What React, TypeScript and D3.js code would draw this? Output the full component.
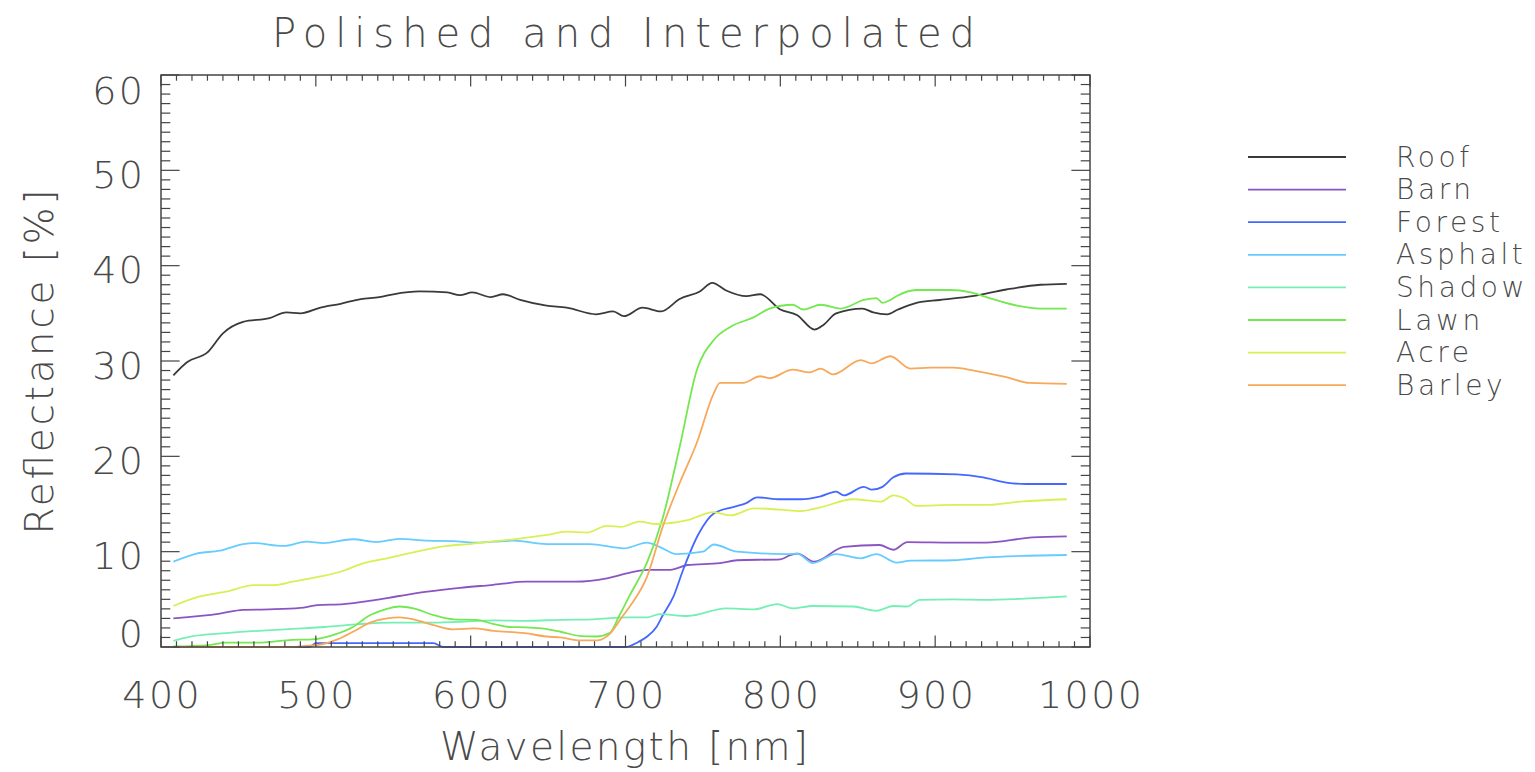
import React from "react";
import * as d3 from "d3";

type Pt = [number, number];

const seriesNames = ["Roof", "Barn", "Forest", "Asphalt", "Shadow", "Lawn", "Acre", "Barley"];
const seriesColors = ["#3a3a3a", "#8a55c0", "#4468ff", "#66ccff", "#74f0b4", "#74e850", "#d8f054", "#f8a85a"];

const roof: Pt[] = [[408,28.5],[417,29.9],[430,30.9],[440,32.9],[453,34.1],[470,34.5],[481,35.1],[490,35.0],[503,35.6],[516,36.0],[529,36.5],[541,36.7],[550,37.0],[567,37.3],[585,37.2],[593,36.9],[601,37.2],[613,36.7],[621,37.0],[632,36.4],[649,35.8],[662,35.6],[681,34.9],[692,35.2],[699,34.7],[711,35.6],[723,35.2],[735,36.5],[748,37.3],[756,38.2],[765,37.4],[778,36.8],[787,37.0],[800,35.4],[811,34.8],[822,33.3],[828,33.8],[836,35.0],[853,35.5],[860,35.1],[869,34.9],[876,35.4],[888,36.1],[903,36.4],[924,36.8],[946,37.5],[968,38.0],[985,38.1]];
const barn: Pt[] = [[408,3.0],[438,3.5],[453,3.9],[470,3.95],[490,4.1],[501,4.4],[518,4.5],[537,4.9],[554,5.35],[572,5.8],[593,6.2],[613,6.5],[636,6.85],[668,6.85],[688,7.2],[703,7.8],[714,8.1],[729,8.1],[740,8.6],[761,8.8],[772,9.1],[800,9.2],[806,9.6],[811,9.8],[822,8.95],[841,10.5],[864,10.7],[873,10.2],[882,11.0],[912,10.95],[933,10.95],[963,11.5],[985,11.6]];
const forest: Pt[] = [[408,0],[496,0],[500,0.4],[576,0.4],[582,0],[700,0],[708,0.5],[714,1.1],[720,2.1],[724,3.3],[731,5.3],[737,8.0],[747,11.8],[757,14.0],[770,14.7],[778,15.1],[785,15.7],[800,15.5],[813,15.5],[826,15.8],[836,16.3],[841,15.9],[854,16.8],[859,16.5],[866,16.8],[873,17.8],[881,18.2],[914,18.1],[931,17.8],[946,17.25],[959,17.1],[985,17.1]];
const asphalt: Pt[] = [[408,8.95],[423,9.8],[438,10.1],[453,10.8],[460,10.9],[479,10.6],[494,11.05],[505,10.9],[524,11.3],[539,11.0],[554,11.35],[572,11.15],[589,11.1],[602,10.95],[615,11.05],[628,11.15],[649,10.8],[677,10.8],[699,10.35],[714,10.95],[722,10.5],[733,9.75],[750,10.0],[757,10.75],[772,10.0],[804,9.75],[811,9.8],[821,8.8],[836,9.75],[852,9.3],[862,9.75],[875,8.85],[884,9.05],[912,9.1],[933,9.4],[955,9.55],[985,9.65]];
const shadow: Pt[] = [[408,0.65],[419,1.1],[442,1.45],[463,1.7],[485,1.9],[506,2.1],[528,2.4],[549,2.55],[572,2.55],[593,2.65],[615,2.8],[636,2.75],[658,2.85],[679,2.9],[701,3.1],[714,3.1],[722,3.45],[740,3.25],[765,4.05],[783,3.95],[798,4.5],[808,4.05],[821,4.3],[847,4.25],[862,3.8],[873,4.3],[882,4.25],[890,4.95],[912,5.0],[933,4.95],[955,5.05],[985,5.3]];
const lawn: Pt[] = [[408,0.05],[431,0.2],[442,0.45],[463,0.45],[485,0.75],[498,0.8],[511,1.25],[524,2.1],[534,3.25],[545,3.95],[554,4.25],[563,4.05],[576,3.35],[589,2.9],[604,2.85],[615,2.4],[625,2.1],[636,2.05],[650,1.85],[658,1.6],[671,1.15],[681,1.1],[690,1.5],[696,3.3],[703,5.5],[714,8.9],[724,13.5],[735,21.0],[746,29.0],[757,32.2],[768,33.6],[783,34.6],[793,35.5],[808,35.9],[815,35.4],[826,35.9],[839,35.5],[854,36.4],[862,36.6],[866,36.1],[871,36.4],[875,36.8],[888,37.45],[910,37.45],[923,37.2],[935,36.6],[953,35.8],[968,35.5],[985,35.5]];
const acre: Pt[] = [[408,4.3],[425,5.3],[442,5.8],[460,6.5],[473,6.5],[485,6.85],[503,7.4],[518,8.0],[529,8.7],[546,9.3],[559,9.8],[572,10.25],[585,10.6],[599,10.8],[613,11.05],[628,11.3],[649,11.75],[662,12.1],[675,12.0],[688,12.7],[697,12.6],[709,13.15],[720,12.9],[740,13.3],[757,14.15],[768,13.8],[783,14.55],[800,14.4],[813,14.25],[826,14.65],[847,15.5],[865,15.25],[873,15.9],[880,15.6],[888,14.8],[912,14.9],[933,14.9],[955,15.25],[985,15.5]];
const barley: Pt[] = [[408,0],[485,0],[492,0.1],[501,0.2],[514,0.8],[524,1.6],[535,2.55],[546,3.0],[554,3.1],[563,2.9],[576,2.3],[589,1.85],[602,1.95],[615,1.7],[635,1.45],[649,1.1],[658,1.0],[671,0.7],[682,0.7],[690,1.4],[698,3.2],[703,4.3],[714,7.4],[724,12.6],[735,17.2],[746,21.4],[757,26.6],[761,27.7],[776,27.7],[787,28.4],[793,28.2],[808,29.1],[819,28.8],[826,29.2],[834,28.6],[852,30.1],[859,29.75],[871,30.5],[884,29.2],[897,29.3],[912,29.3],[925,29.0],[946,28.3],[961,27.7],[985,27.6]];

const seriesData: Pt[][] = [roof, barn, forest, asphalt, shadow, lawn, acre, barley];

const xTicks = [400, 500, 600, 700, 800, 900, 1000];
const yTicks = [0, 10, 20, 30, 40, 50, 60];

const titleText = "Polished and Interpolated";
const xLabel = "Wavelength [nm]";
const yLabel = "Reflectance [%]";

const FONT = "'DejaVu Sans', sans-serif";
const TXT = "#4a4a4a";
const AX = "#444";

export default function App() {
  const L = 161, R = 1090, T = 75, B = 647;
  const x = d3.scaleLinear().domain([400, 1000]).range([L, R]);
  const y = d3.scaleLinear().domain([0, 60]).range([B, T]);
  const line = d3
    .line<Pt>()
    .x((d) => x(d[0]))
    .y((d) => y(d[1]))
    .curve(d3.curveMonotoneX);

  const xMinor = d3.range(400, 1001, 10);
  const yMinor = d3.range(0, 61, 1);
  const xMajLen = 11.5, xMinLen = 5.7, yMajLen = 18.6, yMinLen = 9.3;

  const legendY0 = 157, legendStep = 32.6;

  return (
    <svg width={1535} height={772} style={{ position: "absolute", left: 0, top: 0, background: "#fff" }}
      fontFamily={FONT} fontWeight={200}>
      <rect x={0} y={0} width={1535} height={772} fill="#fff" />
      {/* title */}
      <text x={623.5} y={47} textAnchor="middle" fontSize={40} fill={TXT}
        textLength={703} lengthAdjust="spacing">{titleText}</text>

      {/* series */}
      <g fill="none" strokeWidth={1.8} strokeLinejoin="round">
        {seriesData.map((d, i) => (
          <path key={seriesNames[i]} d={line(d) || ""} stroke={seriesColors[i]} />
        ))}
      </g>

      {/* frame */}
      <rect x={L} y={T} width={R - L} height={B - T} fill="none" stroke={AX} strokeWidth={1.5} />

      {/* ticks */}
      <g stroke={AX} strokeWidth={1.2}>
        {xMinor.map((v) => {
          const len = v % 100 === 0 ? xMajLen : xMinLen;
          return (
            <g key={"xt" + v}>
              <line x1={x(v)} x2={x(v)} y1={B} y2={B - len} />
              <line x1={x(v)} x2={x(v)} y1={T} y2={T + len} />
            </g>
          );
        })}
        {yMinor.map((v) => {
          const len = v % 10 === 0 ? yMajLen : yMinLen;
          return (
            <g key={"yt" + v}>
              <line x1={L} x2={L + len} y1={y(v)} y2={y(v)} />
              <line x1={R} x2={R - len} y1={y(v)} y2={y(v)} />
            </g>
          );
        })}
      </g>

      {/* tick labels */}
      <g fontSize={38} fill={TXT} letterSpacing={2.4}>
        {xTicks.map((v) => (
          <text key={"xl" + v} x={x(v) + 1.2} y={708} textAnchor="middle">{String(v)}</text>
        ))}
        {yTicks.map((v, i) => {
          const off = i === 0 ? 0 : i === yTicks.length - 1 ? 29 : 17.5;
          return (
            <text key={"yl" + v} x={143 + 2.4} y={y(v) + off} textAnchor="end">{String(v)}</text>
          );
        })}
      </g>

      {/* axis titles */}
      <text x={624} y={760} textAnchor="middle" fontSize={39} fill={TXT}
        textLength={368} lengthAdjust="spacing">{xLabel}</text>
      <text transform="translate(53,362) rotate(-90)" textAnchor="middle" fontSize={39} fill={TXT}
        textLength={345} lengthAdjust="spacing">{yLabel}</text>

      {/* legend */}
      <g>
        {seriesNames.map((n, i) => {
          const ly = legendY0 + i * legendStep;
          return (
            <g key={"lg" + n}>
              <line x1={1248} x2={1346} y1={ly} y2={ly} stroke={seriesColors[i]} strokeWidth={1.8} />
              <text x={1396} y={ly + 9.5} fontSize={28} fill={TXT} letterSpacing={3.6}>{n}</text>
            </g>
          );
        })}
      </g>
    </svg>
  );
}
